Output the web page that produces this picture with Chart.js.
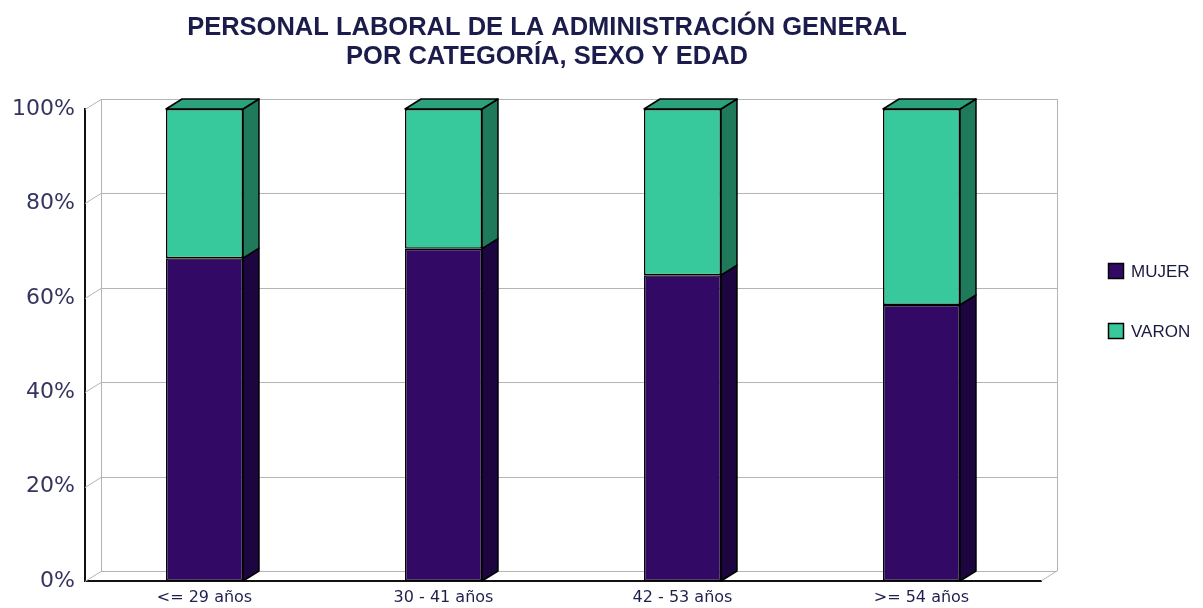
<!DOCTYPE html>
<html>
<head>
<meta charset="utf-8">
<script src="https://cdn.jsdelivr.net/npm/chart.js@4"></script>
<style>
    html, body { margin: 0; padding: 0; background: #fff; }
</style>
</head>
<body>
<canvas id="chart" width="1203" height="608"></canvas>
<script>
const categories = ['<= 29 años', '30 - 41 años', '42 - 53 años', '>= 54 años'];
const mujer = [68.4, 70.4, 64.8, 58.5];
const varon = [31.6, 29.6, 35.2, 41.5];
const yTicks = [0, 20, 40, 60, 80, 100];
const titleLines = ['PERSONAL LABORAL DE LA ADMINISTRACIÓN GENERAL', 'POR CATEGORÍA, SEXO Y EDAD'];

// depth of the fake 3d
const dx = 16, dy = -10;

const sideColors = ['#1d053f', '#1f7a5c'];
const topColors = ['#24094a', '#2ba27c'];

const box3d = {
    id: 'box3d',
    beforeDatasetsDraw(chart) {
        const ctx = chart.ctx, a = chart.chartArea, y = chart.scales.y;
        ctx.save();
        ctx.strokeStyle = '#b4b4b4';
        ctx.lineWidth = 1;
        ctx.beginPath();
        y.ticks.forEach(t => {
            const py = Math.round(y.getPixelForValue(t.value)) + 0.5;
            ctx.moveTo(a.left, py);
            ctx.lineTo(a.left + dx, py + dy);
            ctx.lineTo(a.right + dx, py + dy);
        });
        ctx.moveTo(a.left + dx + 0.5, a.top + dy);
        ctx.lineTo(a.left + dx + 0.5, a.bottom + dy);
        ctx.moveTo(a.right + dx + 0.5, a.top + dy);
        ctx.lineTo(a.right + dx + 0.5, a.bottom + dy);
        ctx.moveTo(a.right, a.bottom);
        ctx.lineTo(a.right + dx, a.bottom + dy);
        ctx.stroke();
        ctx.restore();
    },
    afterDatasetsDraw(chart) {
        const ctx = chart.ctx;
        const n = chart.data.datasets.length;
        ctx.save();
        ctx.strokeStyle = '#000';
        ctx.lineWidth = 1.5;
        ctx.lineJoin = 'round';
        chart.data.datasets.forEach((ds, i) => {
            const meta = chart.getDatasetMeta(i);
            meta.data.forEach(bar => {
                const l = bar.x - bar.width / 2, r = bar.x + bar.width / 2;
                const t = Math.min(bar.y, bar.base), b = Math.max(bar.y, bar.base);
                // side
                ctx.beginPath();
                ctx.moveTo(r, t);
                ctx.lineTo(r + dx, t + dy);
                ctx.lineTo(r + dx, b + dy);
                ctx.lineTo(r, b);
                ctx.closePath();
                ctx.fillStyle = sideColors[i];
                ctx.fill();
                ctx.stroke();
                // top only on the last stack
                if (i === n - 1) {
                    ctx.beginPath();
                    ctx.moveTo(l, t);
                    ctx.lineTo(l + dx, t + dy);
                    ctx.lineTo(r + dx, t + dy);
                    ctx.lineTo(r, t);
                    ctx.closePath();
                    ctx.fillStyle = topColors[i];
                    ctx.fill();
                    ctx.stroke();
                }
            });
        });
        ctx.restore();
    },
    afterDraw(chart) {
        const ctx = chart.ctx;
        ctx.save();
        // title
        ctx.fillStyle = '#1c1c4c';
        ctx.font = 'bold 25.5px "Liberation Sans", Arial, sans-serif';
        ctx.textAlign = 'center';
        ctx.textBaseline = 'middle';
        titleLines.forEach((line, i) => ctx.fillText(line, 547, 28 + i * 29));
        // legend
        ctx.textAlign = 'left';
        ctx.font = '17px "Liberation Sans", Arial, sans-serif';
        chart.data.datasets.forEach((ds, i) => {
            const top = 263 + i * 60;
            ctx.fillStyle = ds.backgroundColor;
            ctx.fillRect(1108, top, 16, 16);
            ctx.strokeStyle = '#000';
            ctx.lineWidth = 1.5;
            ctx.strokeRect(1108.5, top + 0.5, 15, 15);
            ctx.fillStyle = '#1a1a40';
            ctx.fillText(ds.label, 1131, top + 9);
        });
        ctx.restore();
    }
};

const ctx = document.getElementById('chart').getContext('2d');
new Chart(ctx, {
    type: 'bar',
    data: {
        labels: categories,
        datasets: [
            {
                label: 'MUJER',
                data: mujer,
                backgroundColor: '#320a66',
                borderColor: '#000',
                borderWidth: 1.5,
                borderSkipped: false,
                barPercentage: 0.322,
                categoryPercentage: 1
            },
            {
                label: 'VARON',
                data: varon,
                backgroundColor: '#37c89b',
                borderColor: '#000',
                borderWidth: 1.5,
                borderSkipped: false,
                barPercentage: 0.322,
                categoryPercentage: 1
            }
        ]
    },
    options: {
        responsive: false,
        animation: false,
        layout: { padding: { top: 109, right: 162, left: 0, bottom: 0 } },
        plugins: {
            legend: { display: false },
            title: { display: false },
            tooltip: { enabled: false }
        },
        scales: {
            x: {
                stacked: true,
                grid: { display: false, drawTicks: false },
                border: { display: true, color: '#111', width: 2 },
                ticks: {
                    color: '#1f1f4f',
                    padding: 7,
                    maxRotation: 0,
                    font: { family: '"DejaVu Sans", sans-serif', size: 16 }
                },
                afterFit(s) { s.height = 27; }
            },
            y: {
                stacked: true,
                min: 0,
                max: 100,
                grid: { display: false, drawTicks: false },
                border: { display: true, color: '#111', width: 2 },
                ticks: {
                    color: '#34345f',
                    padding: 10,
                    font: { family: '"DejaVu Sans", sans-serif', size: 22 },
                    callback: v => v + '%'
                },
                afterBuildTicks(s) { s.ticks = yTicks.map(v => ({ value: v })); },
                afterFit(s) { s.width = 85; }
            }
        }
    },
    plugins: [box3d]
});
</script>
</body>
</html>
